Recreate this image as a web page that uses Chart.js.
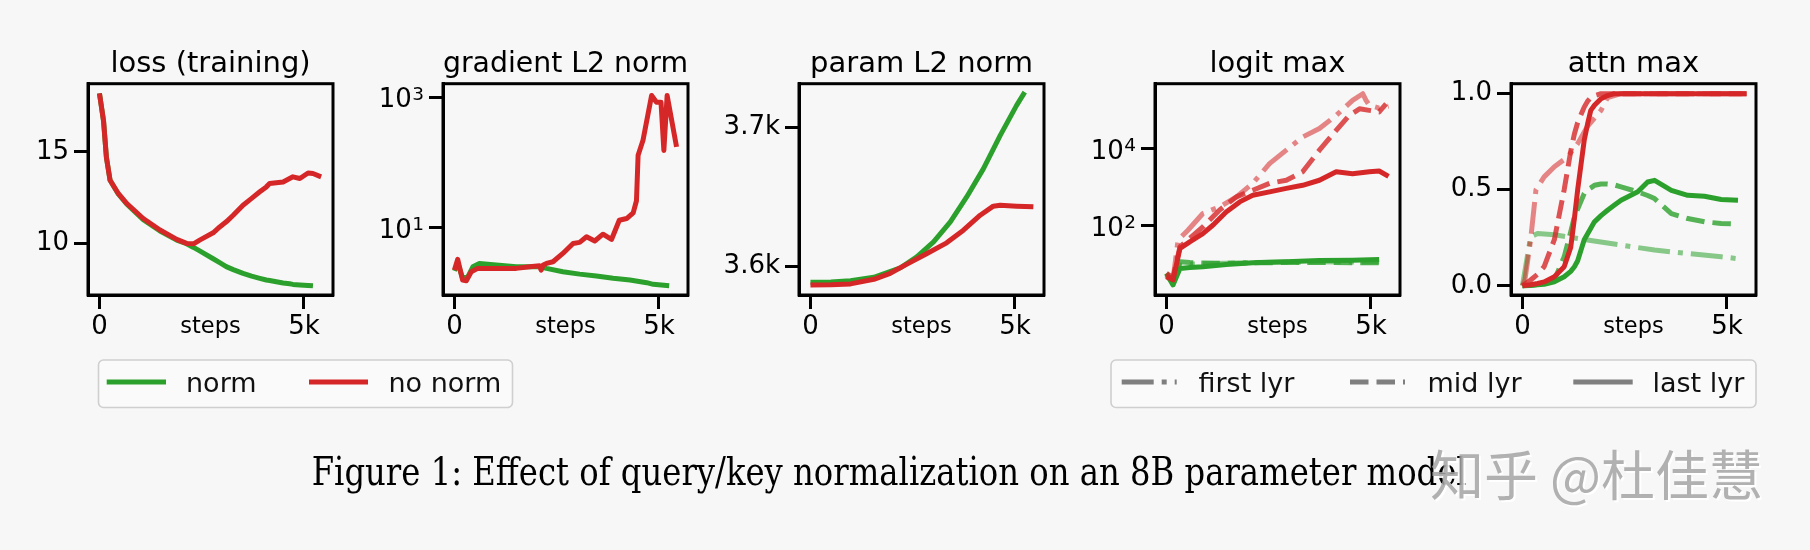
<!DOCTYPE html>
<html>
<head>
<meta charset="utf-8">
<script src="https://cdn.jsdelivr.net/npm/chart.js@4.4.1/dist/chart.umd.min.js"></script>
<style>
  html, body { margin: 0; padding: 0; background: #f7f7f7; width: 1810px; height: 550px; overflow: hidden; }
  body { position: relative; }
  canvas { position: absolute; top: 0; }
  svg { position: absolute; left: 0; top: 0; }
</style>
</head>
<body>
<script>
// ---------------- data ----------------
const panelTitles = ['loss (training)', 'gradient L2 norm', 'param L2 norm', 'logit max', 'attn max'];
const xAxisTitle = 'steps';
const xTickValues = [0, 5000];
const xTickLabels = ['0', '5k'];
const seriesNames = ['norm', 'no norm'];
const layerNames = ['first lyr', 'mid lyr', 'last lyr'];
const captionText = 'Figure 1: Effect of query/key normalization on an 8B parameter model';
const watermarkText = '知乎 @杜佳慧';

// loss (training)
const lossSteps  = [0, 100, 170, 260, 460, 670, 1070, 1480, 1890, 2130, 2300, 2450, 2780, 2940, 3100, 3270, 3510, 3720, 3920, 4080, 4160, 4490, 4650, 4730, 4900, 5100, 5220, 5420];
const lossNoNorm = [18.2, 16.7, 14.7, 13.45, 12.73, 12.18, 11.36, 10.73, 10.22, 10.0, 9.98, 10.18, 10.58, 10.9, 11.18, 11.54, 12.09, 12.46, 12.82, 13.09, 13.27, 13.36, 13.55, 13.64, 13.55, 13.85, 13.82, 13.64];
const lossNorm   = [18.2, 16.7, 14.7, 13.45, 12.7, 12.14, 11.3, 10.68, 10.18, 9.98, 9.78, 9.59, 9.16, 8.95, 8.73, 8.57, 8.36, 8.21, 8.09, 8.0, 7.97, 7.84, 7.79, 7.76, 7.73, 7.70, 7.68, null];
const lossTicks = [10, 15];
const lossTickLabels = ['10', '15'];

// gradient L2 norm
const gradNoNormSteps = [0, 80, 200, 290, 410, 570, 1020, 1510, 1840, 2080, 2120, 2170, 2250, 2410, 2650, 2900, 3060, 3230, 3430, 3630, 3840, 4030, 4210, 4370, 4450, 4490, 4610, 4820, 4940, 5050, 5120, 5200, 5430];
const gradNoNorm      = [2.26, 3.3, 1.59, 1.55, 2.13, 2.4, 2.4, 2.4, 2.54, 2.63, 2.26, 2.7, 2.86, 3.03, 4.06, 5.78, 6.0, 7.3, 6.3, 8.0, 6.65, 13.1, 13.9, 17, 26, 129, 219, 1060, 835, 835, 153, 1060, 173];
const gradNormSteps = [0, 80, 200, 330, 450, 610, 1020, 1510, 2080, 2250, 2650, 3060, 3470, 3880, 4290, 4700, 4860, 5250];
const gradNorm      = [2.2, 2.9, 1.7, 1.8, 2.54, 2.86, 2.7, 2.54, 2.54, 2.40, 2.13, 1.96, 1.83, 1.69, 1.59, 1.45, 1.37, 1.30];
const gradTicks = [10, 1000];
const gradTickLabels = [['10', '1'], ['10', '3']];   // base, exponent

// param L2 norm
const paramNormSteps = [0, 500, 980, 1550, 2200, 2600, 3010, 3420, 3820, 4230, 4640, 5040, 5240];
const paramNorm      = [3588.3, 3588.5, 3589.5, 3591.9, 3598.8, 3606.7, 3617.4, 3631.8, 3649.7, 3670.1, 3694.0, 3715.6, 3725.1];
const paramNoNormSteps = [0, 500, 980, 1550, 1950, 2360, 2850, 3330, 3740, 4150, 4470, 4640, 5040, 5450];
const paramNoNorm      = [3586.4, 3586.5, 3587.2, 3590.5, 3594.8, 3601.4, 3609.1, 3616.7, 3625.8, 3636.6, 3643.1, 3643.8, 3643.1, 3642.6];
const paramTicks = [3600, 3700];
const paramTickLabels = ['3.6k', '3.7k'];

// logit max
const logitNoNormLastSteps = [0, 160, 330, 570, 890, 1140, 1460, 1790, 2110, 2520, 2930, 3330, 3740, 4150, 4550, 4960, 5200, 5430];
const logitNoNormLast      = [4.8, 4.0, 26, 38.6, 63, 105, 229, 417, 617, 759, 933, 1122, 1514, 2512, 2239, 2512, 2630, 1905];
const logitNoNormMidSteps = [0, 160, 330, 890, 1300, 1710, 2110, 2520, 2930, 3330, 3740, 4150, 4470, 4720, 4960, 5200, 5370];
const logitNoNormMid      = [5.9, 4.5, 28.7, 94, 257, 562, 832, 1259, 1514, 2512, 9120, 29500, 72400, 107000, 97700, 89100, 144500];
const logitNoNormFirstSteps = [0, 160, 285, 530, 890, 1300, 1710, 2110, 2520, 2930, 3330, 3740, 4150, 4550, 4800, 4880, 4960, 5200, 5430];
const logitNoNormFirst      = [5, 4, 43, 78, 209, 309, 562, 1259, 4070, 9120, 19950, 33100, 72400, 178000, 263000, 178000, 132000, 112000, 126000];
const logitNormSteps = [0, 160, 330, 570, 890, 1460, 2110, 2930, 3740, 4550, 5200];
const logitNormLast  = [5.9, 2.95, 7.9, 8.3, 8.7, 10, 11, 11.7, 12.6, 12.9, 13.5];
const logitNormMid   = [5.6, 3.5, 11.7, 11.2, 10.9, 10.7, 11, 11.2, 11.3, 11.1, 11];
const logitNormFirst = [5.2, 3.2, 9.5, 10.2, 10.4, 10.8, 11.2, 11.5, 11.8, 11.6, 11.8];
const logitTicks = [100, 10000];
const logitTickLabels = [['10', '2'], ['10', '4']];

// attn max
const attnNoNormLastSteps = [0, 200, 370, 530, 780, 1020, 1180, 1270, 1350, 1510, 1590, 1670, 1760, 1920, 2080, 2250, 5480];
const attnNoNormLast      = [0, 0.005, 0.012, 0.02, 0.047, 0.099, 0.2, 0.35, 0.5, 0.757, 0.84, 0.913, 0.94, 0.974, 0.99, 1.0, 1.0];
const attnNoNormMidSteps = [0, 200, 370, 530, 780, 1020, 1180, 1270, 1350, 1510, 1590, 1670, 1760, 1920, 5480];
const attnNoNormMid      = [0, 0.03, 0.06, 0.1, 0.24, 0.5, 0.7, 0.79, 0.85, 0.93, 0.96, 0.98, 0.99, 1.0, 1.0];
const attnNoNormFirstSteps = [0, 60, 200, 330, 530, 780, 1100, 1350, 1590, 1920, 2080, 2410, 5480];
const attnNoNormFirst      = [0, 0.03, 0.24, 0.5, 0.567, 0.62, 0.67, 0.74, 0.83, 0.913, 0.98, 1.0, 1.0];
const attnNormSteps = [0, 200, 370, 530, 780, 1020, 1180, 1270, 1350, 1510, 1590, 1670, 1760, 1920, 2080, 2250, 2410, 2820, 3060, 3230, 3640, 4040, 4450, 4860, 5270];
const attnNormLast  = [0, 0.002, 0.005, 0.008, 0.021, 0.047, 0.075, 0.099, 0.13, 0.24, 0.27, 0.30, 0.333, 0.365, 0.393, 0.42, 0.445, 0.489, 0.54, 0.549, 0.497, 0.471, 0.466, 0.449, 0.445];
const attnNormMid   = [0, 0.003, 0.006, 0.01, 0.03, 0.151, 0.28, 0.359, 0.40, 0.48, 0.50, 0.51, 0.523, 0.53, 0.53, 0.525, 0.515, 0.489, 0.47, 0.454, 0.376, 0.35, 0.333, 0.324, 0.321];
const attnNormFirstSteps = [0, 200, 370, 780, 1590, 2410, 3230, 4040, 4860, 5230];
const attnNormFirst      = [0, 0.255, 0.272, 0.266, 0.238, 0.212, 0.186, 0.168, 0.151, 0.142];
const attnTicks = [0, 0.5, 1.0];
const attnTickLabels = ['0.0', '0.5', '1.0'];

// ---------------- style / layout ----------------
const GREEN = '44,160,44', RED = '214,39,40';
const ALPHA = { first: 0.55, mid: 0.8, last: 1 };
const DASH = { first: [32, 8, 5, 8], mid: [18.5, 8], last: [] };
const panelLefts = [88, 443, 799, 1155, 1511];
const PW = 245, MARGIN = 90, CH = 345;
const X_MIN = -280, X_MAX = 5710;
const FONT = 'DejaVu Sans';
const TICK_SIZE = 26;

function pts(xs, ys) {
  return xs.map((x, i) => ({ x: x, y: ys[i] })).filter(p => p.y !== null && p.y !== undefined);
}
function ds(xs, ys, rgb, layer) {
  return {
    data: pts(xs, ys),
    borderColor: 'rgba(' + rgb + ',' + ALPHA[layer] + ')',
    borderWidth: 5,
    borderDash: DASH[layer],
    borderCapStyle: 'butt',
    borderJoinStyle: 'round',
    pointRadius: 0,
    tension: 0,
    fill: false
  };
}

const framePlugin = {
  id: 'frame',
  afterDatasetsDraw(chart) {
    const { ctx, chartArea: a } = chart;
    ctx.save();
    ctx.lineWidth = 3;
    ctx.strokeStyle = '#000';
    ctx.strokeRect(a.left, a.top, a.right - a.left, a.bottom - a.top);
    ctx.restore();
  }
};

// mathtext-like "10^n" tick labels for logarithmic y axes, placed through the y scale
const logLabelPlugin = {
  id: 'logLabels',
  afterDraw(chart, args, opts) {
    if (!opts || !opts.labels) return;
    const { ctx, chartArea: a } = chart;
    const ys = chart.scales.y;
    ctx.save();
    ctx.fillStyle = '#000';
    ctx.textAlign = 'right';
    ctx.textBaseline = 'alphabetic';
    opts.values.forEach((v, i) => {
      const ty = ys.getPixelForValue(v);
      const base = opts.labels[i][0], exp = opts.labels[i][1];
      const right = a.left - 19;
      ctx.font = '18.5px "DejaVu Sans"';
      ctx.fillText(exp, right, ty + 2.5);
      const ew = ctx.measureText(exp).width;
      ctx.font = TICK_SIZE + 'px "DejaVu Sans"';
      ctx.fillText(base, right - ew - 0.5, ty + 10);
    });
    ctx.restore();
  }
};

function axisCommon() {
  return {
    grid: { display: true, drawOnChartArea: false, drawTicks: true, tickLength: 14, tickWidth: 3, tickColor: '#000' },
    border: { display: true, color: '#000', width: 3 }
  };
}

function makeChart(idx, datasets, yType, yMin, yMax, yTicks, yLabels) {
  const isLog = yType === 'logarithmic';
  const canvas = document.createElement('canvas');
  canvas.width = PW + 2 * MARGIN;
  canvas.height = CH;
  canvas.style.left = (panelLefts[idx] - MARGIN) + 'px';
  canvas.style.width = (PW + 2 * MARGIN) + 'px';
  canvas.style.height = CH + 'px';
  document.body.appendChild(canvas);
  new Chart(canvas, {
    type: 'line',
    data: { datasets: datasets },
    options: {
      responsive: false,
      animation: false,
      devicePixelRatio: 1,
      layout: { padding: { left: 0, right: MARGIN, top: 0, bottom: 0 } },
      plugins: {
        legend: { display: false },
        tooltip: { enabled: false },
        title: {
          display: true, fullSize: false, text: panelTitles[idx], color: '#000',
          font: { family: FONT, size: 29, weight: 'normal', lineHeight: 1.2 },
          padding: { top: 47, bottom: 1.9 }
        },
        logLabels: isLog ? { values: yTicks, labels: yLabels } : {}
      },
      scales: {
        x: Object.assign(axisCommon(), {
          type: 'linear', min: X_MIN, max: X_MAX, bounds: 'data',
          afterBuildTicks: s => { s.ticks = xTickValues.map(v => ({ value: v })); },
          afterFit: s => { s.height = 50; },
          ticks: { color: '#000', font: { family: FONT, size: TICK_SIZE }, padding: 3, maxRotation: 0, autoSkip: false,
                   callback: (v, i) => xTickLabels[i] },
          title: { display: true, text: xAxisTitle, color: '#000', font: { family: FONT, size: 22.5 }, padding: { top: 0, bottom: 4.2 } }
        }),
        y: Object.assign(axisCommon(), {
          type: yType, min: yMin, max: yMax, bounds: 'data',
          afterBuildTicks: s => { s.ticks = yTicks.map(v => ({ value: v })); },
          afterFit: s => { s.width = MARGIN; },
          ticks: { display: !isLog, color: '#000', font: { family: FONT, size: TICK_SIZE }, padding: 5, autoSkip: false,
                   callback: (v, i) => (isLog ? '' : yLabels[i]) }
        })
      }
    },
    plugins: [framePlugin, logLabelPlugin]
  });
}

// red (no norm) listed first so it is drawn on top
makeChart(0, [
  ds(lossSteps, lossNoNorm, RED, 'last'),
  ds(lossSteps, lossNorm, GREEN, 'last')
], 'linear', 7.18, 18.73, lossTicks, lossTickLabels);

makeChart(1, [
  ds(gradNoNormSteps, gradNoNorm, RED, 'last'),
  ds(gradNormSteps, gradNorm, GREEN, 'last')
], 'logarithmic', 0.94, 1603, gradTicks, gradTickLabels);

makeChart(2, [
  ds(paramNoNormSteps, paramNoNorm, RED, 'last'),
  ds(paramNormSteps, paramNorm, GREEN, 'last')
], 'linear', 3579.2, 3731.2, paramTicks, paramTickLabels);

makeChart(3, [
  ds(logitNoNormLastSteps, logitNoNormLast, RED, 'last'),
  ds(logitNoNormMidSteps, logitNoNormMid, RED, 'mid'),
  ds(logitNoNormFirstSteps, logitNoNormFirst, RED, 'first'),
  ds(logitNormSteps, logitNormLast, GREEN, 'last'),
  ds(logitNormSteps, logitNormMid, GREEN, 'mid'),
  ds(logitNormSteps, logitNormFirst, GREEN, 'first')
], 'logarithmic', 1.62, 478630, logitTicks, logitTickLabels);

makeChart(4, [
  ds(attnNoNormLastSteps, attnNoNormLast, RED, 'last'),
  ds(attnNoNormMidSteps, attnNoNormMid, RED, 'mid'),
  ds(attnNoNormFirstSteps, attnNoNormFirst, RED, 'first'),
  ds(attnNormSteps, attnNormLast, GREEN, 'last'),
  ds(attnNormSteps, attnNormMid, GREEN, 'mid'),
  ds(attnNormFirstSteps, attnNormFirst, GREEN, 'first')
], 'linear', -0.048, 1.052, attnTicks, attnTickLabels);

// ---------------- legends, caption, watermark (SVG text) ----------------
const NS = 'http://www.w3.org/2000/svg';
const svg = document.createElementNS(NS, 'svg');
svg.setAttribute('width', 1810);
svg.setAttribute('height', 550);
document.body.appendChild(svg);
function el(tag, attrs, text) {
  const e = document.createElementNS(NS, tag);
  for (const k in attrs) e.setAttribute(k, attrs[k]);
  if (text !== undefined) e.textContent = text;
  svg.appendChild(e);
  return e;
}
function legendBox(x, y, w, h) {
  el('rect', { x: x, y: y, width: w, height: h, rx: 5, ry: 5, fill: 'rgba(255,255,255,0.35)', stroke: '#cfcfcf', 'stroke-width': 1.6 });
}
function legendItem(x1, x2, tx, color, dash, label) {
  el('line', { x1: x1, x2: x2, y1: 382, y2: 382, stroke: color, 'stroke-width': 5, 'stroke-dasharray': dash.length ? dash.join(' ') : 'none' });
  el('text', { x: tx, y: 392, 'font-family': FONT, 'font-size': 27, fill: '#111' }, label);
}
legendBox(98.5, 360, 414, 47.5);
legendItem(106.7, 166, 186, 'rgb(' + GREEN + ')', [], seriesNames[0]);
legendItem(309, 368, 388.5, 'rgb(' + RED + ')', [], seriesNames[1]);

legendBox(1111, 360, 645, 47.5);
legendItem(1121.7, 1176.7, 1198.5, '#7f7f7f', DASH.first, layerNames[0]);
legendItem(1350, 1405, 1427.5, '#7f7f7f', DASH.mid, layerNames[1]);
legendItem(1573.3, 1632.7, 1652.5, '#7f7f7f', DASH.last, layerNames[2]);

el('text', { x: 311.7, y: 485, 'font-family': 'DejaVu Serif', 'font-size': 40, fill: '#000',
             textLength: 1155, lengthAdjust: 'spacingAndGlyphs' }, captionText);

el('text', { x: 1432, y: 498, 'font-family': 'Noto Sans CJK SC', 'font-size': 54, fill: '#ffffff', opacity: 0.9,
             textLength: 333, lengthAdjust: 'spacingAndGlyphs' }, watermarkText);
el('text', { x: 1430, y: 496, 'font-family': 'Noto Sans CJK SC', 'font-size': 54, fill: '#a4a4a4', opacity: 0.85,
             textLength: 333, lengthAdjust: 'spacingAndGlyphs' }, watermarkText);
</script>
</body>
</html>
